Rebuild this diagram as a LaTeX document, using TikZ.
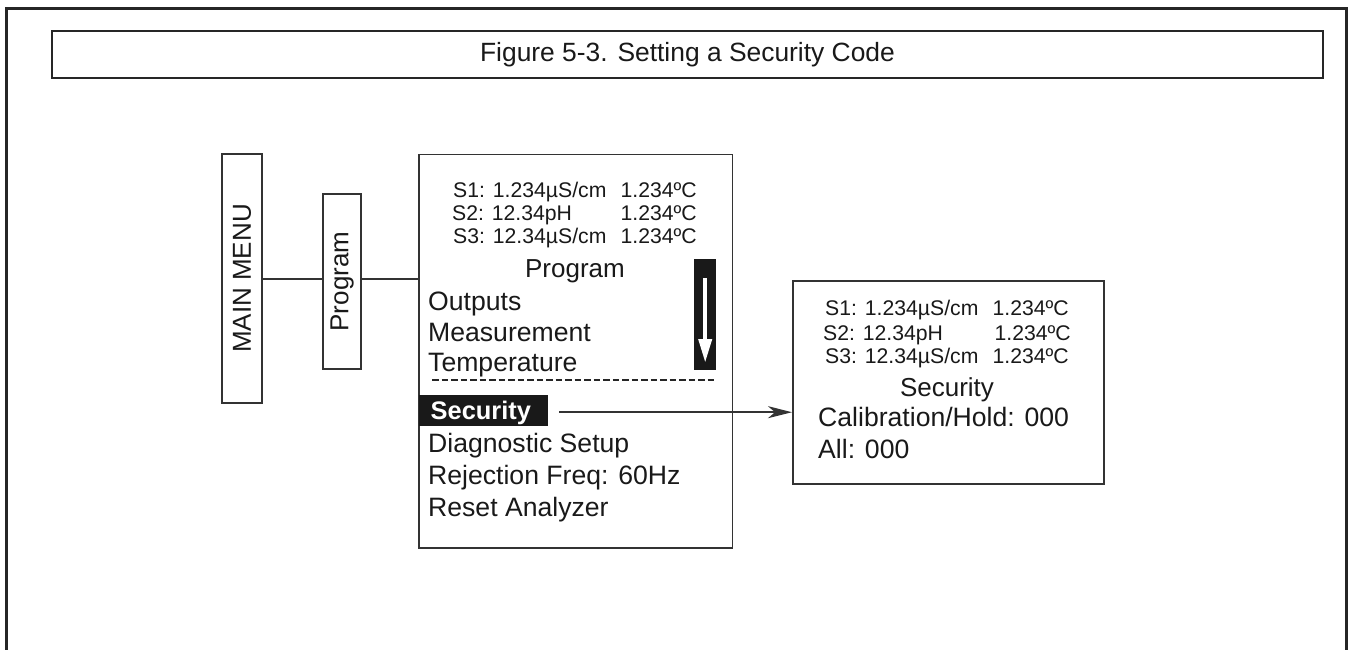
\documentclass[tikz,border=0pt]{standalone}
\usepackage{fontspec}
\setmainfont{Liberation Sans}
\usetikzlibrary{arrows.meta,calc}
\begin{document}
\begin{tikzpicture}[x=1pt,y=-1pt,
  outerframe/.style={draw=black!85,line width=3pt},
  titlebox/.style={draw=black!85,line width=2.5pt,inner sep=0pt,text=black!90,
    font=\fontsize{26.4}{30}\selectfont},
  panel/.style={draw=black!80,line width=1.5pt,inner sep=0pt,anchor=north west},
  rotbox/.style={draw=black!80,line width=1.5pt,inner sep=0pt,rotate=90,text=black!90,
    font=\fontsize{26}{28}\selectfont},
  statl/.style={inner sep=0pt,anchor=base west,text=black!90,font=\fontsize{21.2}{24}\selectfont},
  statr/.style={inner sep=0pt,anchor=base east,text=black!90,font=\fontsize{21.2}{24}\selectfont},
  menuitem/.style={inner sep=0pt,anchor=base west,text=black!90,font=\fontsize{26.6}{30}\selectfont},
  header/.style={inner sep=0pt,anchor=base,text=black!90,font=\fontsize{26}{30}\selectfont},
  link/.style={draw=black!80,line width=1.5pt}
]
\useasboundingbox (0,0) rectangle (1350,650);

% outer frame (open at the bottom)
\draw[outerframe] (6.5,652) -- (6.5,9) -- (1346.5,9) -- (1346.5,652);

% title
\node[titlebox,minimum width=1271pt,minimum height=47pt] (title) at (687.5,54.5)
  {Figure 5-3. Setting a Security Code};

% vertical boxes
\node[rotbox,minimum width=249pt,minimum height=40pt] (mm) at (242,278.5) {MAIN MENU};
\node[rotbox,minimum width=175pt,minimum height=38pt] (prog) at (342,281.5) {Program};

% main display panel
\node[panel,minimum width=313.5pt,minimum height=393pt] (main) at (418,154) {};

% security panel
\node[panel,minimum width=311pt,minimum height=203pt] (secp) at (792,280) {};

% connectors
\coordinate (lk) at (0,279);
\draw[link] (mm.south |- lk) -- (prog.north |- lk);
\draw[link] (prog.south |- lk) -- (main.west |- lk);

% status lines, main panel
\node[statl] (m1l) at (453,197) {S1: 1.234µS/cm};
\node[statr] (m1r) at (697,197) {1.234ºC};
\node[statl] (m2l) at (452,220) {S2: 12.34pH};
\node[statr] (m2r) at (697,220) {1.234ºC};
\node[statl] (m3l) at (453,243.5) {S3: 12.34µS/cm};
\node[statr] (m3r) at (697,243.5) {1.234ºC};

\node[header] (mhead) at (575,277.5) {Program};
\node[menuitem] (iout) at (428,310) {Outputs};
\node[menuitem] (imeas) at (428,341.5) {Measurement};
\node[menuitem] (itemp) at (428,371) {Temperature};

% scroll bar
\node[fill=black!90,inner sep=0pt,minimum width=22pt,minimum height=111pt,anchor=north west] (bar) at (694,259) {};
\draw[white,line width=4.5pt,-{Triangle[length=24pt,width=12.7pt]}]
  ($(bar.north)+(0,19)$) -- ($(bar.north)+(0,104)$);

% dashed separator
\draw[black!85,line width=2.5pt,dash pattern=on 6.5pt off 3pt] (432,380) -- (717,380);

% highlighted item
\node[fill=black!90,inner sep=0pt,minimum width=129pt,minimum height=31pt,anchor=north west] (selsec) at (419,395) {};
\node[inner sep=0pt,anchor=base west,text=white,font=\bfseries\fontsize{25.4}{28}\selectfont] (isec) at (430.5,419) {Security};

\node[menuitem] (idiag) at (428,452.5) {Diagnostic Setup};
\node[menuitem] (irej) at (428,484.5) {Rejection Freq: 60Hz};
\node[menuitem] (ireset) at (428,516.5) {Reset Analyzer};

% arrow to security panel
\coordinate (astart) at ($(selsec.east)+(11,1.5)$);
\draw[link,-{Stealth[length=24pt,width=12pt,inset=7pt]}] (astart) -- (astart -| secp.west);

% status lines, security panel
\node[statl] (s1l) at (825,315.5) {S1: 1.234µS/cm};
\node[statr] (s1r) at (1069,315.5) {1.234ºC};
\node[statl] (s2l) at (823,340.5) {S2: 12.34pH};
\node[statr] (s2r) at (1071,340.5) {1.234ºC};
\node[statl] (s3l) at (825,363.5) {S3: 12.34µS/cm};
\node[statr] (s3r) at (1069,363.5) {1.234ºC};

\node[header] (shead) at (947,396) {Security};
\node[menuitem] (scal) at (818,426.5) {Calibration/Hold: 000};
\node[menuitem] (sall) at (818,458.5) {All: 000};
\end{tikzpicture}
\end{document}
